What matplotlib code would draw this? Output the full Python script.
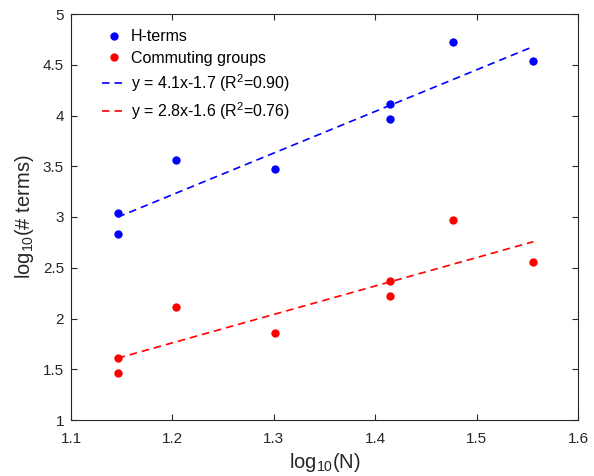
import matplotlib
matplotlib.use("Agg")
import matplotlib.pyplot as plt
import numpy as np

plt.rcParams['font.family'] = ['Liberation Sans', 'DejaVu Sans']
plt.rcParams['mathtext.fontset'] = 'custom'
plt.rcParams['mathtext.rm'] = 'Liberation Sans'
plt.rcParams['mathtext.it'] = 'Liberation Sans:italic'
plt.rcParams['mathtext.default'] = 'rm'

# data
log_n = [1.146, 1.146, 1.204, 1.301, 1.415, 1.415, 1.477, 1.556]
h_terms = [3.04, 2.83, 3.56, 3.47, 4.11, 3.97, 4.72, 4.54]
comm_groups = [1.61, 1.46, 2.11, 1.86, 2.37, 2.22, 2.97, 2.56]
fit_h = (4.1, -1.7, 0.90)
fit_c = (2.8, -1.6, 0.76)
x_ticks = [1.1, 1.2, 1.3, 1.4, 1.5, 1.6]
y_ticks = [1, 1.5, 2, 2.5, 3, 3.5, 4, 4.5, 5]

axcol = '#262626'
fig = plt.figure(figsize=(5.94, 4.76), dpi=100)
ax = fig.add_axes([71/594, 1 - 420/476, 507/594, 406/476])

ax.plot(log_n, h_terms, 'o', color='#0000ff', ms=6, mec='none', label='H-terms')
ax.plot(log_n, comm_groups, 'o', color='#ff0000', ms=6, mec='none', label='Commuting groups')

xf = np.array([min(log_n), max(log_n)])
for (a, b, r2), col in [(fit_h, '#0000ff'), (fit_c, '#ff0000')]:
    ax.plot(xf, a * xf + b, '--', color=col, lw=1.2, dashes=(4.5, 3),
            label=f'y = {a:.1f}x{b:.1f} (R$^2$={r2:.2f})')

ax.set_xlim(1.1, 1.6)
ax.set_ylim(1, 5)
ax.set_xticks(x_ticks)
ax.set_xticklabels([f'{t:g}' for t in x_ticks])
ax.set_yticks(y_ticks)
ax.set_yticklabels([f'{t:g}' for t in y_ticks])
ax.tick_params(direction='in', length=4, width=0.8, colors=axcol, labelsize=11,
               top=True, right=True)
ax.tick_params(axis='x', pad=8.5)
ax.tick_params(axis='y', pad=5)
for s in ax.spines.values():
    s.set_color(axcol)
    s.set_linewidth(0.8)

ax.set_xlabel('log$_{10}$(N)', fontsize=14.5, color=axcol, labelpad=3.5)
ax.set_ylabel('log$_{10}$(# terms)', fontsize=14.5, color=axcol, labelpad=5)

leg = ax.legend(loc='upper left', frameon=False, fontsize=11.5, handlelength=1.45,
                borderaxespad=0.3, labelspacing=0.4, handletextpad=0.35,
                bbox_to_anchor=(0.04, 0.99))
for t in leg.get_texts():
    t.set_color('#000000')

fig.savefig('out.png', dpi=100)
